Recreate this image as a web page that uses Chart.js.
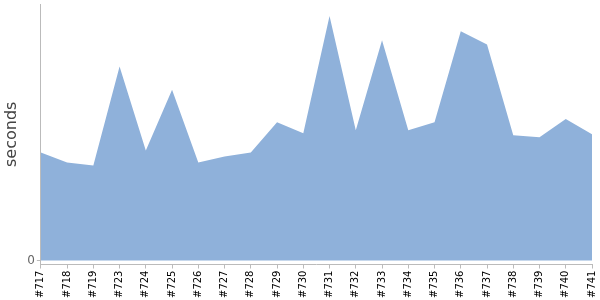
<!DOCTYPE html>
<html lang="en"><head>
<meta charset="utf-8">
<title>Build durations</title>
<script src="https://cdn.jsdelivr.net/npm/chart.js@4"></script>
<style>
*{margin:0;padding:0}
body{background:#fff;width:600px;height:300px;overflow:hidden}
#wrap{position:relative;width:600px;height:300px}
</style></head><body>
<div id="wrap"><canvas id="c"></canvas></div>
<script>
// build numbers along the x axis
const builds=['#717','#718','#719','#723','#724','#725','#726','#727','#728','#729','#730',
  '#731','#732','#733','#734','#735','#736','#737','#738','#739','#740','#741'];
// duration per build (seconds)
const seconds=[10.7,9.7,9.4,19.2,10.9,16.9,9.7,10.3,10.7,13.7,12.6,
  24.2,12.9,21.8,12.9,13.7,22.7,21.4,12.4,12.2,14.0,12.5];
const yTicks=[0];
const yMin=-0.4, yMax=25.4;

const axisGrey='#bbbbbb';
new Chart(document.getElementById('c'),{
  type:'line',
  data:{labels:builds,datasets:[{
    data:seconds,fill:'origin',backgroundColor:'#8fb1da',
    borderWidth:0,borderColor:'#8fb1da',pointRadius:0,tension:0
  }]},
  options:{
    responsive:true,maintainAspectRatio:false,animation:false,
    layout:{padding:{left:2,right:8,top:4,bottom:0}},
    plugins:{legend:{display:false},tooltip:{enabled:false}},
    scales:{
      x:{
        offset:false,
        afterFit:s=>{s.paddingLeft=0;s.paddingRight=0},
        grid:{display:true,drawOnChartArea:false,tickLength:4,color:axisGrey},
        border:{color:axisGrey},
        ticks:{autoSkip:false,maxRotation:90,minRotation:90,padding:2,
          color:'#000',font:{family:'DejaVu Sans',size:10}}
      },
      y:{
        min:yMin,max:yMax,
        afterFit:s=>{s.paddingTop=0;s.paddingBottom=0},
        afterBuildTicks:a=>{a.ticks=yTicks.map(v=>({value:v}))},
        grid:{display:true,drawOnChartArea:false,tickLength:4,color:axisGrey},
        border:{color:axisGrey},
        title:{display:true,text:'seconds',color:'#444',
          font:{family:'DejaVu Sans',size:16},padding:{top:0,bottom:4}},
        ticks:{color:'#666',padding:2,font:{family:'DejaVu Sans',size:12}}
      }
    }
  }
});
</script></body></html>
